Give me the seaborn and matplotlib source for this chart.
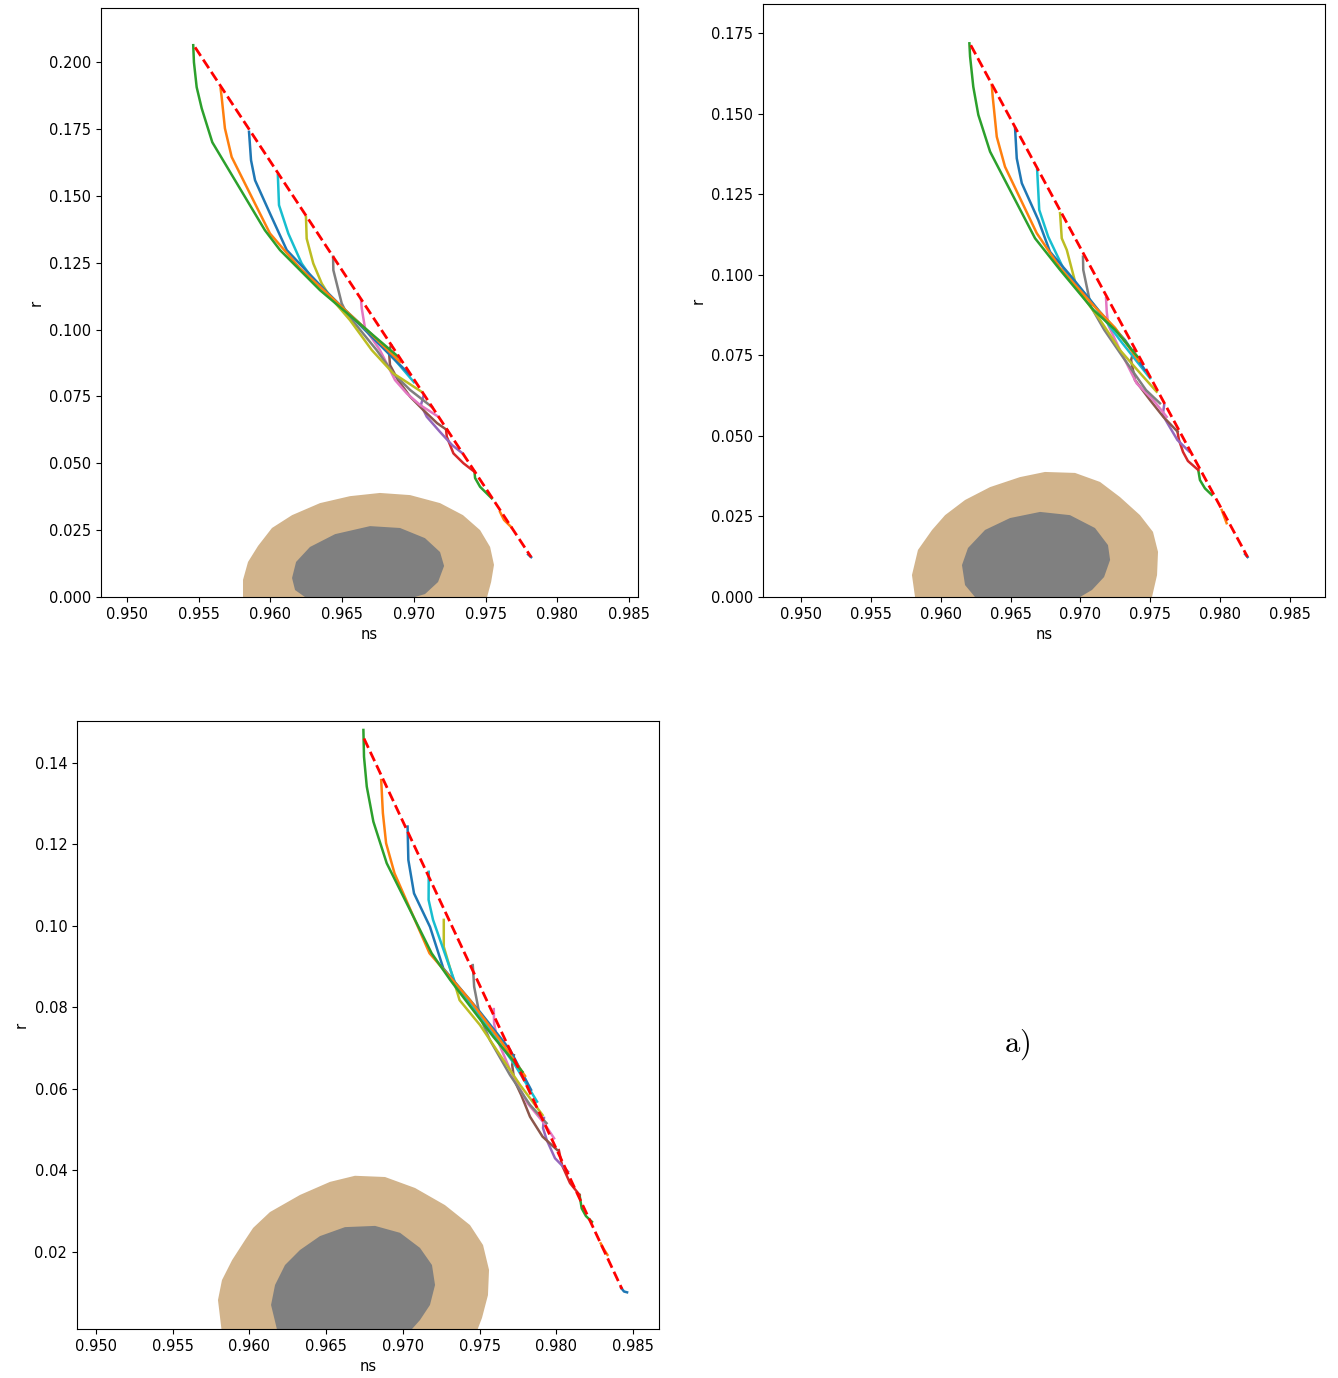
import numpy as np
import pandas as pd
import matplotlib
matplotlib.use("Agg")
import matplotlib.pyplot as plt
from matplotlib.ticker import FormatStrFormatter
import seaborn as sns

# ---------------------------------------------------------------------------
# Panel 1: (ns, r) tracks, index 0 (lowest) .. 12 (highest)
# ---------------------------------------------------------------------------
p1_ns = [
    [0.97797, 0.97818],
    [0.97601, 0.97629, 0.97678],
    [0.97423, 0.97427, 0.97462, 0.97543],
    [0.97225, 0.97230, 0.97276, 0.97346, 0.97423],
    [0.97069, 0.97050, 0.97090, 0.97183, 0.97267, 0.97340],
    [0.96841, 0.96827, 0.96834, 0.96890, 0.96974, 0.97066, 0.97162, 0.97232],
    [0.96632, 0.96637, 0.96660, 0.96764, 0.96869, 0.96951, 0.97043, 0.97171],
    [0.96437, 0.96439, 0.96497, 0.96532, 0.96741, 0.96857, 0.96974, 0.97125],
    [0.96248, 0.96253, 0.96299, 0.96358, 0.96416, 0.96555, 0.96707, 0.96857, 0.97055],
    [0.96052, 0.96060, 0.96125, 0.96218, 0.96299, 0.96485, 0.96695, 0.96869, 0.97001],
    [0.95851, 0.95865, 0.95893, 0.95997, 0.96114, 0.96346, 0.96555, 0.96764, 0.96974],
    [0.95653, 0.95660, 0.95683, 0.95730, 0.95997, 0.96206, 0.96485, 0.96695, 0.96904],
    [0.95462, 0.95467, 0.95486, 0.95521, 0.95595, 0.95962, 0.96067, 0.96346, 0.96648, 0.96892],
]
p1_r = [
    [0.0159, 0.0149],
    [0.0318, 0.0288, 0.0262],
    [0.0468, 0.0445, 0.0412, 0.0369],
    [0.0624, 0.0599, 0.0537, 0.0500, 0.0468],
    [0.0755, 0.0718, 0.0674, 0.0617, 0.0568, 0.0537],
    [0.0942, 0.0916, 0.0867, 0.0811, 0.0749, 0.0699, 0.0650, 0.0624],
    [0.1110, 0.1079, 0.1004, 0.0923, 0.0811, 0.0761, 0.0718, 0.0674],
    [0.1272, 0.1222, 0.1098, 0.1060, 0.0923, 0.0836, 0.0774, 0.0711],
    [0.1421, 0.1340, 0.1247, 0.1172, 0.1122, 0.1035, 0.0923, 0.0836, 0.0767],
    [0.1577, 0.1465, 0.1359, 0.1247, 0.1185, 0.1091, 0.0987, 0.0886, 0.0803],
    [0.1739, 0.1633, 0.1558, 0.1434, 0.1297, 0.1166, 0.1054, 0.0942, 0.0830],
    [0.1901, 0.1870, 0.1752, 0.1645, 0.1359, 0.1229, 0.1091, 0.0987, 0.0879],
    [0.2063, 0.1999, 0.1906, 0.1827, 0.1700, 0.1371, 0.1297, 0.1147, 0.1010, 0.0898],
]
p1_line_ns = [0.95475, 0.97818]
p1_line_r = [0.2055, 0.0149]
p1_outer_ns = [0.95809, 0.95809, 0.95844, 0.95914, 0.96011, 0.96151, 0.96346, 0.96555,
               0.96764, 0.96974, 0.97183, 0.97343, 0.97462, 0.97532, 0.97559, 0.97539, 0.97511]
p1_outer_r = [0.0, 0.0064, 0.0131, 0.0191, 0.0258, 0.0306, 0.0351, 0.0377,
              0.0389, 0.0381, 0.0351, 0.0306, 0.0250, 0.0187, 0.0120, 0.0056, 0.0]
p1_inner_ns = [0.96241, 0.96172, 0.96151, 0.96179, 0.96276, 0.96451, 0.96695, 0.96904,
               0.97078, 0.97183, 0.97211, 0.97169, 0.97078, 0.97008]
p1_inner_r = [0.0, 0.0026, 0.0071, 0.0131, 0.0187, 0.0235, 0.0265, 0.0258,
              0.0220, 0.0168, 0.0116, 0.0056, 0.0011, 0.0]

# ---------------------------------------------------------------------------
# Panel 2
# ---------------------------------------------------------------------------
p2_ns = [
    [0.98178, 0.98196],
    [0.98011, 0.98027, 0.98046],
    [0.97843, 0.97855, 0.97891, 0.97939],
    [0.97692, 0.97705, 0.97734, 0.97769, 0.97843],
    [0.97599, 0.97589, 0.97623, 0.97694, 0.97779],
    [0.97382, 0.97362, 0.97390, 0.97498, 0.97593, 0.97695],
    [0.97183, 0.97188, 0.97199, 0.97283, 0.97402, 0.97521, 0.97617],
    [0.97018, 0.97020, 0.97075, 0.97170, 0.97301, 0.97469, 0.97569],
    [0.96854, 0.96866, 0.96902, 0.96973, 0.97140, 0.97283, 0.97426, 0.97545],
    [0.96690, 0.96705, 0.96769, 0.96877, 0.97068, 0.97283, 0.97498],
    [0.96532, 0.96544, 0.96580, 0.96698, 0.96782, 0.96925, 0.97140, 0.97319, 0.97462],
    [0.96365, 0.96372, 0.96401, 0.96460, 0.96687, 0.96854, 0.97090, 0.97248, 0.97419],
    [0.96205, 0.96210, 0.96233, 0.96269, 0.96353, 0.96675, 0.96854, 0.97092, 0.97248, 0.97408],
]
p2_r = [
    [0.0133, 0.0124],
    [0.0270, 0.0251, 0.0229],
    [0.0394, 0.0363, 0.0337, 0.0317],
    [0.0518, 0.0487, 0.0450, 0.0422, 0.0394],
    [0.0596, 0.0565, 0.0539, 0.0487, 0.0451],
    [0.0766, 0.0735, 0.0673, 0.0611, 0.0559, 0.0513],
    [0.0927, 0.0885, 0.0844, 0.0766, 0.0663, 0.0611, 0.0559],
    [0.1056, 0.1015, 0.0901, 0.0829, 0.0746, 0.0642, 0.0601],
    [0.1191, 0.1113, 0.1077, 0.0959, 0.0860, 0.0766, 0.0695, 0.0637],
    [0.1325, 0.1201, 0.1118, 0.1020, 0.0922, 0.0797, 0.0679],
    [0.1454, 0.1361, 0.1284, 0.1170, 0.1071, 0.0999, 0.0884, 0.0797, 0.0704],
    [0.1589, 0.1552, 0.1428, 0.1335, 0.1129, 0.1021, 0.0906, 0.0835, 0.0732],
    [0.1718, 0.1677, 0.1583, 0.1496, 0.1382, 0.1113, 0.1015, 0.0891, 0.0829, 0.0746],
]
p2_line_ns = [0.96215, 0.98196]
p2_line_r = [0.1712, 0.0124]
p2_outer_ns = [0.95816, 0.95794, 0.95837, 0.95938, 0.96031, 0.96174, 0.96353, 0.96567, 0.96746,
               0.96961, 0.97140, 0.97283, 0.97426, 0.97519, 0.97555, 0.97548, 0.97512]
p2_outer_r = [0.0, 0.0068, 0.0146, 0.0208, 0.0254, 0.0301, 0.0341, 0.0372, 0.0388,
              0.0385, 0.0357, 0.0310, 0.0254, 0.0202, 0.0140, 0.0068, 0.0]
p2_inner_ns = [0.96245, 0.96174, 0.96152, 0.96195, 0.96317, 0.96496, 0.96711,
               0.96925, 0.97104, 0.97197, 0.97212, 0.97169, 0.97083, 0.96997]
p2_inner_r = [0.0, 0.0037, 0.0099, 0.0152, 0.0208, 0.0245, 0.0264,
              0.0254, 0.0214, 0.0161, 0.0115, 0.0062, 0.0022, 0.0]

# ---------------------------------------------------------------------------
# Panel 3
# ---------------------------------------------------------------------------
p3_ns = [
    [0.98423, 0.98442, 0.98462],
    [0.98290, 0.98310, 0.98334],
    [0.98152, 0.98166, 0.98194, 0.98233],
    [0.98017, 0.98038, 0.98090, 0.98152],
    [0.97920, 0.97914, 0.97938, 0.97992, 0.98077],
    [0.97724, 0.97713, 0.97726, 0.97772, 0.97829, 0.97911, 0.98007],
    [0.97593, 0.97595, 0.97617, 0.97699, 0.97813, 0.97921, 0.97986],
    [0.97456, 0.97465, 0.97503, 0.97568, 0.97699, 0.97829, 0.97937],
    [0.97267, 0.97267, 0.97305, 0.97370, 0.97503, 0.97634, 0.97764, 0.97911],
    [0.97169, 0.97168, 0.97197, 0.97266, 0.97342, 0.97568, 0.97731, 0.97875],
    [0.97031, 0.97036, 0.97073, 0.97177, 0.97264, 0.97503, 0.97699, 0.97836],
    [0.96859, 0.96870, 0.96891, 0.96946, 0.97174, 0.97438, 0.97634, 0.97797],
    [0.96743, 0.96747, 0.96765, 0.96808, 0.96895, 0.97188, 0.97308, 0.97590, 0.97780],
]
p3_r = [
    [0.0112, 0.0103, 0.0101],
    [0.0221, 0.0207, 0.0193],
    [0.0340, 0.0307, 0.0288, 0.0274],
    [0.0450, 0.0413, 0.0369, 0.0340],
    [0.0529, 0.0504, 0.0475, 0.0430, 0.0397],
    [0.0683, 0.0659, 0.0622, 0.0585, 0.0532, 0.0483, 0.0450],
    [0.0796, 0.0761, 0.0720, 0.0647, 0.0565, 0.0516, 0.0479],
    [0.0904, 0.0851, 0.0777, 0.0720, 0.0634, 0.0561, 0.0516],
    [0.1015, 0.0949, 0.0900, 0.0818, 0.0757, 0.0683, 0.0610, 0.0536],
    [0.1133, 0.1064, 0.1015, 0.0941, 0.0859, 0.0745, 0.0659, 0.0569],
    [0.1244, 0.1162, 0.1080, 0.0998, 0.0896, 0.0789, 0.0696, 0.0598],
    [0.1358, 0.1277, 0.1203, 0.1129, 0.0933, 0.0818, 0.0720, 0.0632],
    [0.1481, 0.1415, 0.1342, 0.1256, 0.1154, 0.0933, 0.0868, 0.0728, 0.0642],
]
p3_line_ns = [0.96747, 0.98429]
p3_line_r = [0.1460, 0.0109]
p3_outer_ns = [0.95821, 0.95795, 0.95821, 0.95887, 0.95971, 0.96024, 0.96134, 0.96330, 0.96525,
               0.96688, 0.96884, 0.97080, 0.97275, 0.97438, 0.97523, 0.97562, 0.97555, 0.97516, 0.97477]
p3_outer_r = [0.0, 0.0082, 0.0131, 0.0180, 0.0229, 0.0259, 0.0298, 0.0340, 0.0372,
              0.0387, 0.0384, 0.0357, 0.0315, 0.0266, 0.0217, 0.0156, 0.0094, 0.0038, 0.0]
p3_inner_ns = [0.96186, 0.96141, 0.96167, 0.96232, 0.96330, 0.96460, 0.96623, 0.96819,
               0.96982, 0.97112, 0.97190, 0.97210, 0.97177, 0.97112, 0.97034]
p3_inner_r = [0.0, 0.0070, 0.0119, 0.0168, 0.0205, 0.0239, 0.0261, 0.0264,
              0.0247, 0.0210, 0.0168, 0.0119, 0.0070, 0.0033, 0.0]

ns_ticks = [0.950, 0.955, 0.960, 0.965, 0.970, 0.975, 0.980, 0.985]
p1_r_ticks = [0.000, 0.025, 0.050, 0.075, 0.100, 0.125, 0.150, 0.175, 0.200]
p2_r_ticks = [0.000, 0.025, 0.050, 0.075, 0.100, 0.125, 0.150, 0.175]
p3_r_ticks = [0.02, 0.04, 0.06, 0.08, 0.10, 0.12, 0.14]

panels = [
    dict(ns=p1_ns, r=p1_r, line=(p1_line_ns, p1_line_r),
         outer=(p1_outer_ns, p1_outer_r), inner=(p1_inner_ns, p1_inner_r),
         rect=[101 / 1338, 1 - 597 / 1378, 537 / 1338, 589 / 1378],
         xlim=(0.94819, 0.98563), ylim=(0.0, 0.2202),
         yticks=p1_r_ticks, yfmt="%.3f"),
    dict(ns=p2_ns, r=p2_r, line=(p2_line_ns, p2_line_r),
         outer=(p2_outer_ns, p2_outer_r), inner=(p2_inner_ns, p2_inner_r),
         rect=[763 / 1338, 1 - 597 / 1378, 562 / 1338, 593 / 1378],
         xlim=(0.94728, 0.98750), ylim=(0.0, 0.1840),
         yticks=p2_r_ticks, yfmt="%.3f"),
    dict(ns=p3_ns, r=p3_r, line=(p3_line_ns, p3_line_r),
         outer=(p3_outer_ns, p3_outer_r), inner=(p3_inner_ns, p3_inner_r),
         rect=[77 / 1338, 1 - 1329 / 1378, 582 / 1338, 608 / 1378],
         xlim=(0.94876, 0.98670), ylim=(0.0011, 0.1503),
         yticks=p3_r_ticks, yfmt="%.2f"),
]

plt.rcParams["font.family"] = ["DejaVu Sans"]
plt.rcParams["font.size"] = 10.5

fig = plt.figure(figsize=(13.38, 13.78), dpi=100)
palette = sns.color_palette("tab10")

for spec in panels:
    ax = fig.add_axes(spec["rect"])
    ax.fill(spec["outer"][0], spec["outer"][1], color="tan", lw=0, zorder=1)
    ax.fill(spec["inner"][0], spec["inner"][1], color="gray", lw=0, zorder=1.5)

    rows = []
    for k, (xs, ys) in enumerate(zip(spec["ns"], spec["r"])):
        for j, (x, y) in enumerate(zip(xs, ys)):
            rows.append({"ns": x, "r": y, "track": k, "step": j})
    df = pd.DataFrame(rows)
    cols = {k: palette[k % 10] for k in df["track"].unique()}
    sns.lineplot(data=df, x="ns", y="r", hue="track", units="track",
                 estimator=None, sort=False, palette=cols, lw=1.8,
                 legend=False, ax=ax, zorder=2)

    sns.lineplot(x=spec["line"][0], y=spec["line"][1], color="red", lw=2,
                 linestyle="--", sort=False, estimator=None, ax=ax, zorder=3)

    ax.set_xlim(*spec["xlim"])
    ax.set_ylim(*spec["ylim"])
    ax.set_xticks(ns_ticks)
    ax.set_yticks(spec["yticks"])
    ax.xaxis.set_major_formatter(FormatStrFormatter("%.3f"))
    ax.yaxis.set_major_formatter(FormatStrFormatter(spec["yfmt"]))
    ax.set_xlabel("ns")
    ax.set_ylabel("r")

fig.text(0.760, 0.2417, r"$\mathrm{a)}$", fontsize=22, math_fontfamily="cm",
         ha="center", va="center")

fig.savefig("out.png", dpi=100)
